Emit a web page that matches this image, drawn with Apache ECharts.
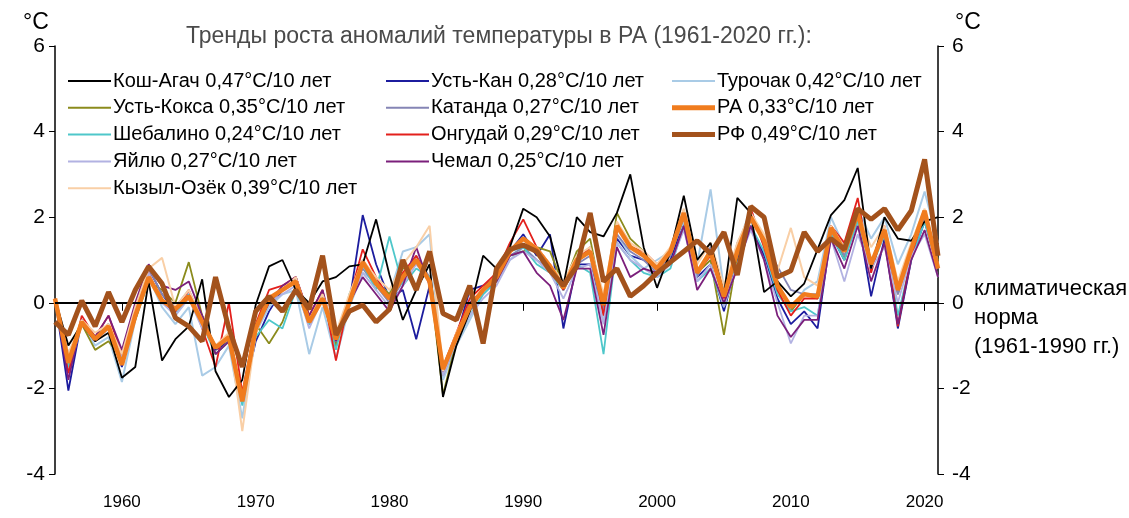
<!DOCTYPE html>
<html>
<head>
<meta charset="utf-8">
<script src="https://cdn.jsdelivr.net/npm/echarts@6/dist/echarts.min.js"></script>
<style>
  html, body { margin: 0; padding: 0; background: #fff; }
  #main { width: 1129px; height: 518px; }
</style>
</head>
<body>
<div id="main"></div>
<script>
// years 1955..2021
var years = [];
for (var y = 1955; y <= 2021; y++) years.push(String(y));

// anomalies, °C
var koshAgach = [0.1, -1.0, -0.5, -0.9, -0.7, -1.75, -1.5, 0.5, -1.35, -0.85, -0.55, 0.55, -1.6, -2.2, -1.8, -0.05, 0.85, 1.0, 0.3, 0.0, 0.5, 0.6, 0.85, 0.9, 1.95, 0.65, -0.4, 0.3, 0.9, -2.2, -1.0, -0.2, 1.1, 0.8, 1.3, 2.2, 2.0, 1.55, 0.4, 2.0, 1.65, 1.55, 2.1, 3.0, 1.3, 0.35, 1.2, 2.5, 1.0, 1.4, 0.2, 2.45, 2.1, 0.25, 0.5, 0.15, 0.45, 1.25, 2.05, 2.4, 3.15, 0.8, 2.0, 1.5, 1.45, 1.9, 2.0];
var ustKan = [0.1, -2.05, -0.4, -0.9, -0.5, -1.5, -0.2, 0.8, 0.2, -0.2, 0.2, -0.3, -1.1, -0.9, -2.3, -0.9, -0.2, 0.3, 0.5, -0.5, 0.2, -1.0, 0.0, 2.05, 0.9, 0.1, 0.3, -0.85, 0.4, -1.6, -0.8, 0.3, 0.4, 0.6, 1.2, 1.6, 1.1, 1.6, -0.6, 0.9, 0.9, -0.2, 1.5, 1.1, 1.0, 0.8, 1.0, 1.9, 0.6, 0.9, -0.2, 1.0, 1.8, 1.1, 0.1, -0.5, -0.2, -0.6, 1.6, 1.0, 2.0, 0.15, 1.5, -0.6, 1.0, 1.9, 0.8];
var turochak = [0.1, -1.6, -0.5, -1.0, -0.8, -1.85, -0.4, 0.6, -0.1, -0.5, -0.1, -1.7, -1.5, -1.0, -2.7, -0.7, -0.1, 0.2, 0.3, -1.2, -0.1, -1.3, -0.1, 0.7, 0.5, 0.2, 1.2, 1.3, 1.6, -1.8, -1.0, -0.4, 0.2, 0.5, 1.0, 1.3, 1.0, 0.7, 0.3, 0.9, 1.3, -0.4, 1.6, 1.1, 0.8, 1.0, 1.2, 1.9, 0.9, 2.65, 0.3, 1.3, 2.2, 1.3, 0.4, -0.2, 0.3, 0.5, 2.0, 1.3, 2.2, 1.5, 2.0, 0.9, 1.6, 2.6, 1.4];
var ustKoksa = [0.1, -1.2, -0.5, -1.1, -0.9, -1.3, -0.4, 0.5, 0.3, 0.0, 0.95, -0.3, -1.2, -0.9, -2.2, -0.5, -0.95, -0.45, 0.4, -0.4, 0.2, -1.0, 0.1, 1.0, 0.5, 0.2, 0.8, 0.9, 0.6, -2.15, -0.9, -0.2, 0.3, 0.6, 1.1, 1.2, 1.3, 1.2, 0.4, 1.2, 1.5, -0.1, 2.1, 1.5, 1.2, 0.8, 1.1, 2.0, 0.7, 1.0, -0.75, 1.1, 2.0, 1.4, 0.5, -0.2, 0.2, 0.1, 1.8, 1.0, 2.0, 0.9, 1.7, 0.2, 1.2, 2.1, 1.0];
var katanda = [0.1, -1.3, -0.4, -0.8, -0.5, -1.3, -0.3, 0.8, 0.2, -0.1, 0.3, -0.4, -1.0, -0.8, -2.2, -0.6, 0.0, 0.3, 0.6, -0.4, 0.2, -0.9, 0.1, 0.8, 0.4, 0.0, 0.5, 1.1, 0.6, -1.7, -0.9, -0.2, 0.3, 0.6, 1.1, 1.3, 1.0, 0.8, 0.3, 0.9, 1.1, -0.2, 1.6, 1.2, 1.0, 0.7, 1.1, 2.0, 0.6, 1.3, 0.2, 1.4, 2.0, 1.4, 0.85, 0.3, 0.2, 0.2, 1.7, 1.1, 2.0, 0.9, 1.6, 0.2, 1.2, 2.0, 0.8];
var sheb = [0.1, -1.5, -0.5, -0.8, -0.5, -1.4, -0.3, 0.6, 0.1, -0.3, 0.2, -0.5, -1.2, -0.9, -2.4, -0.8, -0.4, -0.6, 0.3, -0.5, 0.1, -1.1, 0.2, 0.9, 0.3, 1.55, 0.4, 0.8, 0.6, -1.6, -0.9, -0.3, 0.2, 0.5, 1.2, 1.3, 0.9, 0.7, 0.3, 0.9, 0.7, -1.2, 1.4, 1.0, 0.7, 0.6, 0.8, 1.8, 0.5, 0.8, -0.1, 0.9, 1.8, 1.2, 0.2, -0.2, -0.1, -0.3, 1.6, 1.0, 1.9, 0.8, 1.6, -0.3, 1.0, 1.9, 0.8];
var ongudai = [0.1, -1.65, -0.3, -0.8, -0.3, -1.2, -0.2, 0.7, 0.0, -0.2, 0.3, -0.6, -1.5, 0.0, -2.1, -0.5, 0.3, 0.4, 0.6, -0.3, 0.3, -1.35, 0.1, 1.25, 0.6, 0.1, 0.7, 1.1, 0.5, -1.5, -0.7, 0.1, 0.4, 0.7, 1.4, 1.95, 1.3, 0.9, 0.3, 1.0, 1.3, -0.3, 1.8, 1.3, 1.2, 0.9, 1.2, 2.1, 0.7, 1.1, 0.1, 1.2, 2.2, 1.3, 0.3, -0.3, 0.1, 0.1, 1.8, 1.4, 2.45, 0.7, 1.8, -0.55, 1.1, 2.1, 0.8];
var yailu = [0.1, -1.2, -0.5, -0.9, -0.6, -1.3, -0.2, 0.7, 0.0, -0.3, 0.1, -0.6, -1.0, -0.8, -2.2, -0.7, 0.0, 0.2, 0.4, -0.6, 0.1, -0.9, 0.0, 0.7, 0.3, -0.1, 0.4, 0.9, 0.5, -1.7, -0.9, -0.3, 0.1, 0.4, 1.0, 1.2, 1.0, 0.7, 0.1, 0.8, 0.9, -0.5, 1.4, 1.0, 0.8, 0.6, 0.9, 1.7, 0.5, 0.9, -0.1, 0.9, 1.7, 1.0, 0.0, -0.95, -0.3, -0.3, 1.5, 0.5, 1.6, 0.8, 1.3, 0.0, 1.1, 1.6, 0.6];
var chemal = [0.1, -1.8, -0.4, -0.8, -0.3, -1.1, 0.0, 0.9, 0.4, 0.3, 0.5, -0.3, -1.2, -0.9, -2.2, -0.6, 0.0, 0.4, 0.6, -0.3, 0.3, -0.9, 0.0, 0.6, 0.2, -0.2, 0.4, 1.3, 0.4, -1.6, -0.8, 0.0, 0.3, 0.5, 1.1, 1.2, 0.7, 0.4, -0.4, 0.8, 0.8, -0.75, 1.3, 0.6, 0.8, 0.7, 0.9, 1.8, 0.3, 0.8, 0.0, 0.8, 1.8, 1.0, -0.3, -0.8, -0.4, -0.4, 1.5, 0.8, 1.8, 0.5, 1.4, -0.5, 1.0, 1.7, 0.6];
var kyzylOzek = [0.1, -1.2, -0.4, -0.7, -0.5, -1.2, -0.1, 0.8, 1.05, -0.1, 0.3, -0.4, -1.0, -0.7, -3.0, -0.7, 0.1, 0.3, 0.6, -0.4, 0.2, -0.7, 0.2, 1.0, 0.6, 0.3, 0.9, 1.3, 1.8, -1.6, -0.7, -0.1, 0.3, 0.6, 1.2, 1.5, 1.3, 0.9, 0.5, 1.1, 1.3, 0.2, 1.9, 1.4, 1.2, 0.9, 1.3, 2.2, 0.9, 1.4, 0.4, 1.4, 2.1, 1.6, 0.75, 1.75, 0.6, 0.4, 1.8, 1.3, 2.1, 1.3, 1.8, 0.5, 1.4, 2.2, 0.9];
var ra = [0.1, -1.4, -0.45, -0.85, -0.55, -1.45, -0.3, 0.6, 0.05, -0.15, 0.15, -0.45, -1.05, -0.8, -2.3, -0.6, 0.1, 0.3, 0.5, -0.45, 0.1, -0.85, 0.0, 0.95, 0.45, 0.1, 0.6, 1.0, 0.5, -1.55, -0.8, -0.1, 0.3, 0.6, 1.2, 1.5, 1.25, 0.85, 0.35, 1.0, 1.2, -0.05, 1.8, 1.3, 1.1, 0.8, 1.2, 2.1, 0.7, 1.2, 0.15, 1.2, 2.0, 1.45, 0.4, -0.1, 0.2, 0.15, 1.75, 1.2, 2.1, 0.9, 1.7, 0.3, 1.25, 2.15, 0.8];
var rf = [-0.45, -0.75, 0.05, -0.55, 0.25, -0.45, 0.3, 0.85, 0.45, -0.35, -0.55, -0.9, 0.6, -0.6, -1.5, -0.2, 0.15, -0.2, 0.3, -0.15, 1.1, -0.75, -0.2, -0.05, -0.45, -0.15, 1.0, 0.3, 1.2, -0.25, -0.4, 0.4, -0.95, 0.8, 1.25, 1.35, 1.2, 0.75, 0.4, 0.85, 2.1, 0.5, 0.8, 0.15, 0.4, 0.7, 0.95, 1.2, 1.45, 1.15, 1.65, 0.65, 2.25, 2.0, 0.6, 0.75, 1.65, 1.2, 1.5, 1.25, 2.2, 1.95, 2.2, 1.7, 2.15, 3.35, 1.1];

var col1 = ["Кош-Агач 0,47°C/10 лет", "Усть-Кокса 0,35°C/10 лет", "Шебалино 0,24°C/10 лет", "Яйлю 0,27°C/10 лет", "Кызыл-Озёк 0,39°C/10 лет"];
var col2 = ["Усть-Кан 0,28°C/10 лет", "Катанда 0,27°C/10 лет", "Онгудай 0,29°C/10 лет", "Чемал 0,25°C/10 лет"];
var col3 = ["Турочак 0,42°C/10 лет", "РА 0,33°C/10 лет", "РФ 0,49°C/10 лет"];

var lines = [
  { name: col1[0], data: koshAgach, color: "#000000", w: 1.8, z: 3 },
  { name: col2[0], data: ustKan, color: "#1c1c9e", w: 1.8, z: 2 },
  { name: col3[0], data: turochak, color: "#a9cbe6", w: 2, z: 2 },
  { name: col1[1], data: ustKoksa, color: "#8b8b1c", w: 1.8, z: 2 },
  { name: col2[1], data: katanda, color: "#8585b5", w: 1.8, z: 2 },
  { name: col1[2], data: sheb, color: "#4ec7ca", w: 1.8, z: 2 },
  { name: col2[2], data: ongudai, color: "#e3201c", w: 1.8, z: 2 },
  { name: col1[3], data: yailu, color: "#b2b2e2", w: 1.8, z: 2 },
  { name: col2[3], data: chemal, color: "#7b1f7b", w: 1.8, z: 2 },
  { name: col1[4], data: kyzylOzek, color: "#f9cfa6", w: 2, z: 2 },
  { name: col3[1], data: ra, color: "#f07c1e", w: 4.5, z: 4 },
  { name: col3[2], data: rf, color: "#a3521c", w: 5, z: 5 }
];

var series = lines.map(function (s, i) {
  var o = {
    name: s.name,
    type: "line",
    data: s.data,
    symbol: "none",
    z: s.z,
    color: s.color,
    lineStyle: { color: s.color, width: s.w },
    emphasis: { disabled: true },
    animation: false
  };
  if (i === 0) {
    // climate norm line
    o.markLine = {
      silent: true,
      symbol: "none",
      label: { show: false },
      lineStyle: { color: "#000", width: 2, type: "solid" },
      data: [{ yAxis: 0 }]
    };
  }
  return o;
});

var thinIcon = "path://M0,6 L43,6 L43,8 L0,8 Z";
var thickIcon = "path://M0,0 L43,0 L43,5 L0,5 Z";

var legendBase = {
  orient: "vertical",
  top: 66,
  itemWidth: 43,
  itemHeight: 14,
  itemGap: 6.8,
  icon: thinIcon,
  textStyle: { fontSize: 20, lineHeight: 20, color: "#000", fontFamily: "Liberation Sans, Arial", padding: [0, 0, 0, -3] },
  selectedMode: false
};

// thick legend lines for the two mean series
var col3Items = col3.map(function (n, i) {
  return { name: n, icon: i === 0 ? thinIcon : thickIcon };
});

var myChart = echarts.init(document.getElementById("main"));
var option = {
  animation: false,
  grid: { left: 55, right: 191, top: 46, bottom: 44 },
  legend: [
    Object.assign({}, legendBase, { left: 63, data: col1 }),
    Object.assign({}, legendBase, { left: 381, data: col2 }),
    Object.assign({}, legendBase, { left: 667, data: col3Items })
  ],
  xAxis: {
    type: "category",
    data: years,
    boundaryGap: false,
    axisLine: { lineStyle: { color: "#000", width: 1.5 } },
    axisTick: {
      length: 8,
      lineStyle: { color: "#000" },
      interval: function (i, v) { return Number(v) % 10 === 0; }
    },
    axisLabel: {
      interval: function (i, v) { return Number(v) % 10 === 0; },
      color: "#000",
      fontSize: 17,
      margin: 20,
      fontFamily: "Liberation Sans, Arial"
    }
  },
  yAxis: [
    {
      type: "value", position: "left", min: -4, max: 6, interval: 2,
      axisLine: { show: true, lineStyle: { color: "#000", width: 1.5 } },
      axisTick: { show: true, length: 6, lineStyle: { color: "#000" } },
      splitLine: { show: false },
      axisLabel: { color: "#000", fontSize: 21, margin: 10, fontFamily: "Liberation Sans, Arial" }
    },
    {
      type: "value", position: "right", min: -4, max: 6, interval: 2,
      axisLine: { show: true, lineStyle: { color: "#000", width: 1.5 } },
      axisTick: { show: true, length: 6, lineStyle: { color: "#000" } },
      splitLine: { show: false },
      axisLabel: { color: "#000", fontSize: 21, margin: 14, fontFamily: "Liberation Sans, Arial" }
    }
  ],
  graphic: [
    { type: "text", left: 186, top: 25, style: { text: "Тренды роста аномалий температуры в РА (1961-2020 гг.):", fontSize: 23, fill: "#4a4a4a", fontFamily: "Liberation Sans, Arial" } },
    { type: "text", left: 23, top: 11, style: { text: "°C", fontSize: 23, fill: "#000", fontFamily: "Liberation Sans, Arial" } },
    { type: "text", left: 955, top: 11, style: { text: "°C", fontSize: 23, fill: "#000", fontFamily: "Liberation Sans, Arial" } },
    { type: "text", left: 974, top: 274, style: { text: "климатическая\nнорма\n(1961-1990 гг.)", fontSize: 22, lineHeight: 29, fill: "#000", fontFamily: "Liberation Sans, Arial" } }
  ],
  series: series
};
myChart.setOption(option);
</script>
</body>
</html>
